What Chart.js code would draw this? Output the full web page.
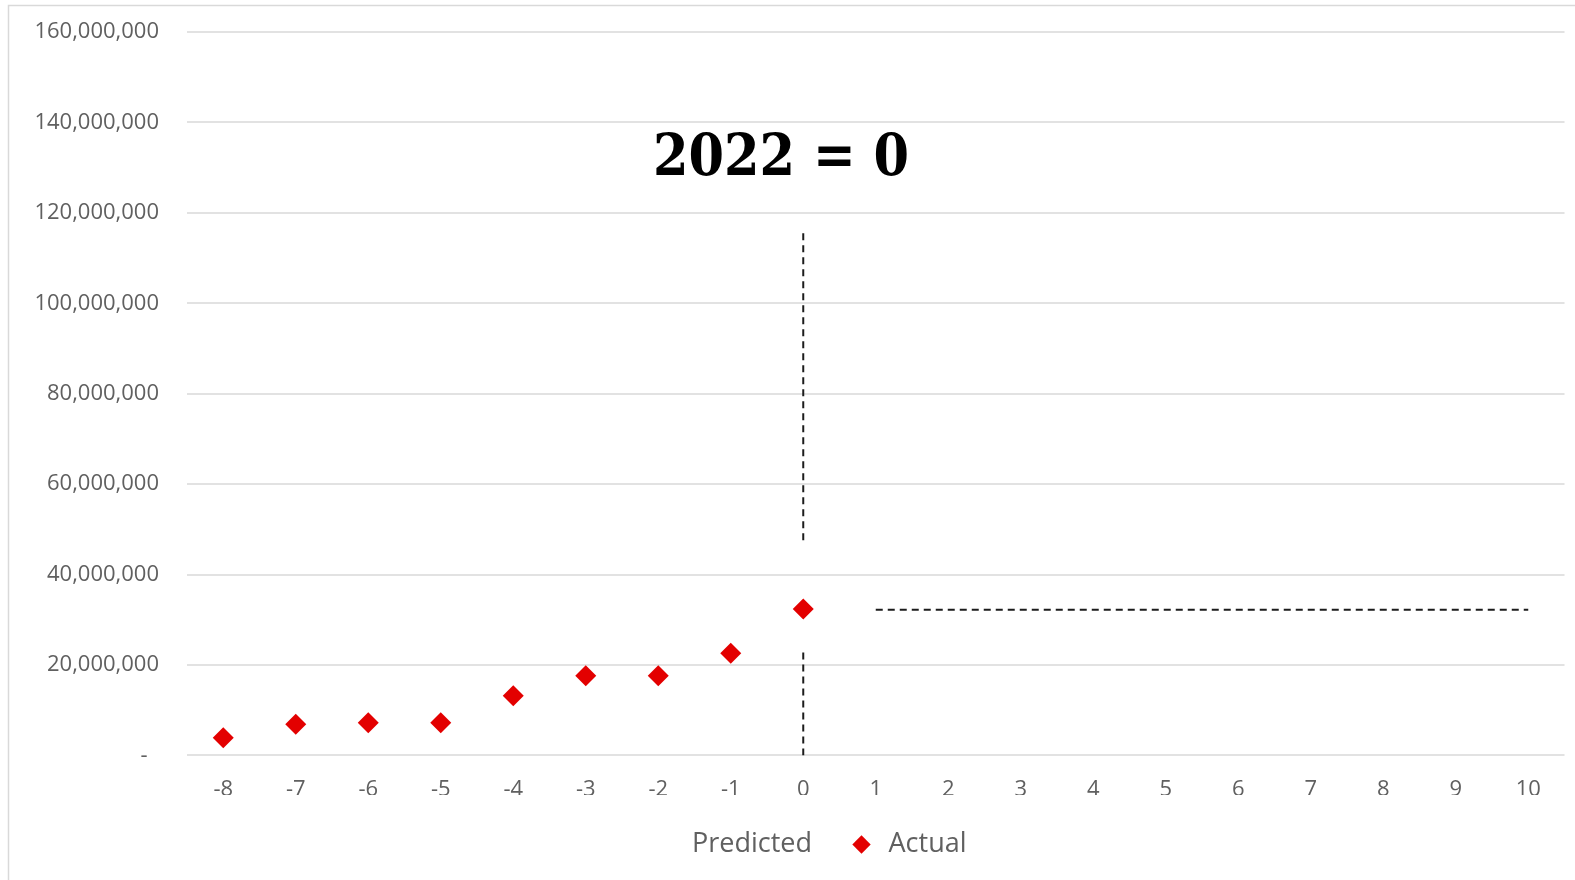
<!DOCTYPE html>
<html>
<head>
<meta charset="utf-8">
<style>
  html, body { margin: 0; padding: 0; background: #ffffff; }
  #wrap { position: relative; width: 1575px; height: 880px; }
</style>
<script src="https://cdn.jsdelivr.net/npm/chart.js@4/dist/chart.umd.min.js"></script>
</head>
<body>
<div id="wrap"><canvas id="chart" width="1575" height="880"></canvas></div>
<script>
// Years relative to 2022 (0 = 2022)
const categories = ['-8', '-7', '-6', '-5', '-4', '-3', '-2', '-1', '0', '1', '2', '3', '4', '5', '6', '7', '8', '9', '10'];

// Observed values up to 2022
const actualValues = [3900000, 6900000, 7200000, 7200000, 13200000, 17600000, 17600000, 22600000, 32400000,
  null, null, null, null, null, null, null, null, null, null];

// Flat projection for the years after 2022
const predictedValues = [null, null, null, null, null, null, null, null, null,
  32200000, 32200000, 32200000, 32200000, 32200000, 32200000, 32200000, 32200000, 32200000, 32200000];

// Dashed marker at year 0, drawn in two pieces
const markerLowerSpan = [0, 23400000];
const markerUpperSpan = [47600000, 115700000];
const markerCategory = '0';

const yTicks = { min: 0, max: 160000000, step: 20000000 };
const headline = '2022 = 0';

const tickFont = { family: '"Open Sans", "Liberation Sans", sans-serif', size: 22 };
const tickColor = '#606060';
const dashColor = '#1c1c1c';
const markColor = '#e30000';

const frame = {
  id: 'frame',
  beforeDraw(chart) {
    const ctx = chart.ctx;
    ctx.save();
    ctx.fillStyle = '#ffffff';
    ctx.fillRect(0, 0, chart.width, chart.height);
    ctx.strokeStyle = '#d9d9d9';
    ctx.lineWidth = 1.5;
    ctx.strokeRect(8.5, 5.5, chart.width + 20, chart.height + 20);
    ctx.restore();
  }
};

// Legend band starts a little right of the canvas edge so the centred row sits under the years
const legendBand = {
  id: 'legendBand',
  afterLayout(chart) {
    if (chart.legend) chart.legend.left = 53;
  }
};

const headlineText = {
  id: 'headlineText',
  afterDraw(chart) {
    const ctx = chart.ctx;
    ctx.save();
    ctx.font = 'bold 58px "DejaVu Serif", "Liberation Serif", serif';
    ctx.fillStyle = '#000000';
    ctx.textBaseline = 'alphabetic';
    ctx.textAlign = 'center';
    const w = ctx.measureText(headline).width;
    ctx.translate(781, 175);
    ctx.scale(256 / w, 1);
    ctx.fillText(headline, 0, 0);
    ctx.restore();
  }
};

const toPoints = (span) => span.map(v => ({ x: markerCategory, y: v }));

new Chart(document.getElementById('chart'), {
  type: 'line',
  data: {
    labels: categories,
    datasets: [
      {
        label: 'Predicted',
        data: predictedValues,
        borderColor: dashColor,
        backgroundColor: dashColor,
        borderWidth: 2,
        borderDash: [7, 5],
        pointRadius: 0,
        spanGaps: false,
        order: 2
      },
      {
        label: 'Actual',
        data: actualValues,
        showLine: false,
        pointStyle: 'rectRot',
        pointRadius: 10.5,
        pointHoverRadius: 10.5,
        backgroundColor: markColor,
        borderColor: markColor,
        borderWidth: 0,
        order: 1
      },
      {
        label: 'marker-low',
        data: toPoints(markerLowerSpan),
        borderColor: dashColor,
        borderWidth: 2,
        borderDash: [7, 5],
        pointRadius: 0,
        order: 3
      },
      {
        label: 'marker-high',
        data: toPoints(markerUpperSpan),
        borderColor: dashColor,
        borderWidth: 2,
        borderDash: [7, 5],
        pointRadius: 0,
        order: 3
      }
    ]
  },
  options: {
    responsive: false,
    animation: false,
    devicePixelRatio: 1,
    layout: { padding: { left: 20, right: 10, top: 32, bottom: 12 } },
    plugins: {
      title: { display: false },
      tooltip: { enabled: false },
      legend: {
        display: true,
        position: 'bottom',
        labels: {
          font: { family: '"Open Sans", "Liberation Sans", sans-serif', size: 27 },
          color: tickColor,
          usePointStyle: true,
          boxWidth: 27,
          boxHeight: 13,
          padding: 36,
          filter: (item) => item.text === 'Predicted' || item.text === 'Actual',
          generateLabels(chart) {
            return chart.data.datasets.map((ds, i) => {
              const isPred = ds.label === 'Predicted';
              return {
                text: ds.label,
                datasetIndex: i,
                pointStyle: isPred ? 'line' : 'rectRot',
                fillStyle: isPred ? 'rgba(0,0,0,0)' : markColor,
                strokeStyle: isPred ? 'rgba(0,0,0,0)' : markColor,
                lineWidth: 0,
                fontColor: tickColor,
                hidden: false
              };
            });
          }
        }
      }
    },
    scales: {
      x: {
        type: 'category',
        offset: true,
        grid: { display: false, drawTicks: false },
        border: { display: false },
        ticks: { font: tickFont, color: tickColor, padding: 21, maxRotation: 0, autoSkip: false },
        afterFit(scale) { scale.height = 39.6; }
      },
      y: {
        min: yTicks.min,
        max: yTicks.max,
        grid: { color: '#e2e2e2', lineWidth: 2, drawTicks: false },
        border: { display: false },
        ticks: {
          stepSize: yTicks.step,
          font: tickFont,
          color: tickColor,
          padding: 28,
          callback: (v) => v === 0 ? '-  ' : Number(v).toLocaleString('en-US')
        },
        afterFit(scale) {
          scale.width = 167;
          scale.paddingTop = 0;
          scale.paddingBottom = 0;
        }
      }
    }
  },
  plugins: [frame, legendBand, headlineText]
});
</script>
</body>
</html>
